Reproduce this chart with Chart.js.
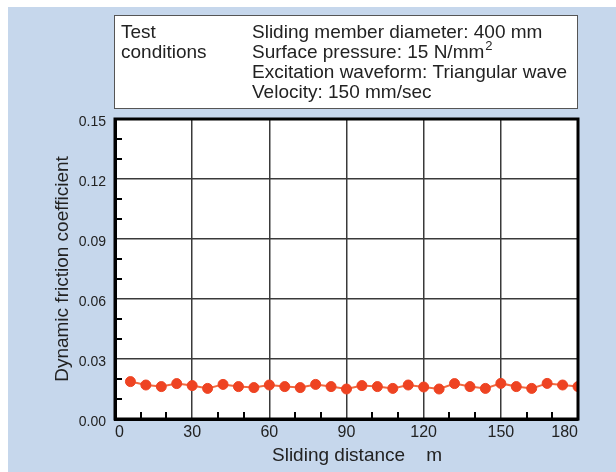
<!DOCTYPE html>
<html>
<head>
<meta charset="utf-8">
<script src="https://cdn.jsdelivr.net/npm/chart.js@4/dist/chart.umd.min.js"></script>
<style>
  html, body { margin: 0; padding: 0; background: #ffffff; }
  canvas { display: block; }
</style>
</head>
<body>
<canvas id="chart" width="616" height="472"></canvas>
<script>
// Sliding distance (m) at each measurement
const distances = [6, 12, 18, 24, 30, 36, 42, 48, 54, 60, 66, 72, 78, 84, 90,
                   96, 102, 108, 114, 120, 126, 132, 138, 144, 150, 156, 162, 168, 174, 180];
// Dynamic friction coefficient measured at each distance
const frictionCoef = [0.0187, 0.0170, 0.0162, 0.0177, 0.0167, 0.0153, 0.0173, 0.0162, 0.0157, 0.0170,
                      0.0162, 0.0157, 0.0173, 0.0162, 0.0150, 0.0167, 0.0162, 0.0153, 0.0170, 0.0160,
                      0.0150, 0.0177, 0.0162, 0.0153, 0.0178, 0.0162, 0.0153, 0.0178, 0.0170, 0.0162];
const xTicks = [0, 30, 60, 90, 120, 150, 180];
const yTicks = [0, 0.03, 0.06, 0.09, 0.12, 0.15];
const xMinorTicks = [10, 20, 40, 50, 70, 80, 100, 110, 130, 140, 160, 170];
const yMinorTicks = [0.01, 0.02, 0.04, 0.05, 0.07, 0.08, 0.10, 0.11, 0.13, 0.14];
const conditionHeading = ['Test', 'conditions'];
const conditionLines = ['Sliding member diameter: 400 mm', 'Surface pressure: 15 N/mm', 'Excitation waveform: Triangular wave', 'Velocity: 150 mm/sec'];
const pressureUnitSup = '2';
const xTitle = 'Sliding distance    m';
const yTitle = 'Dynamic friction coefficient';

const FONT = '"Liberation Sans", Arial, Helvetica, sans-serif';
const NARROW = '"Liberation Sans Narrow", "Arial Narrow", "Liberation Sans", Arial, sans-serif';
const TEXT = '#222222';

const framePlugin = {
  id: 'frame',
  beforeDraw(chart) {
    const { ctx, chartArea: a } = chart;
    ctx.save();
    ctx.fillStyle = '#ffffff';
    ctx.fillRect(0, 0, chart.width, chart.height);
    ctx.fillStyle = '#c6d7ec';
    ctx.fillRect(8, 7, chart.width - 8, chart.height - 7);
    ctx.fillStyle = '#ffffff';
    ctx.fillRect(a.left, a.top, a.right - a.left, a.bottom - a.top);

    // conditions box
    ctx.fillStyle = '#ffffff';
    ctx.fillRect(114, 15, 463, 93);
    ctx.strokeStyle = '#555555';
    ctx.lineWidth = 1;
    ctx.strokeRect(114.5, 15.5, 463, 93);
    ctx.fillStyle = TEXT;
    ctx.font = '19px ' + FONT;
    ctx.textBaseline = 'middle';
    ctx.textAlign = 'left';
    const rowY = [33, 53, 73, 93];
    conditionHeading.forEach((t, i) => ctx.fillText(t, 121, rowY[i]));
    conditionLines.forEach((t, i) => {
      ctx.fillText(t, 252, rowY[i]);
      if (i === 1) {
        const w = ctx.measureText(t).width;
        ctx.font = '13px ' + FONT;
        ctx.fillText(pressureUnitSup, 252 + w + 1, rowY[i] - 7);
        ctx.font = '19px ' + FONT;
      }
    });

    // x axis title
    ctx.font = '19px ' + FONT;
    ctx.fillText(xTitle, 272, 456);
    ctx.restore();
  },
  afterDatasetsDraw(chart) {
    const { ctx, chartArea: a, scales } = chart;
    ctx.save();
    ctx.strokeStyle = '#000000';
    ctx.lineWidth = 2;
    ctx.beginPath();
    yMinorTicks.forEach(v => {
      const y = Math.round(scales.y.getPixelForValue(v));
      ctx.moveTo(a.left, y);
      ctx.lineTo(a.left + 7, y);
    });
    xMinorTicks.forEach(v => {
      const x = Math.round(scales.x.getPixelForValue(v));
      ctx.moveTo(x, a.bottom);
      ctx.lineTo(x, a.bottom - 7);
    });
    ctx.stroke();
    ctx.lineWidth = 3;
    ctx.strokeRect(a.left, a.top, a.right - a.left, a.bottom - a.top);
    ctx.restore();
  }
};

new Chart(document.getElementById('chart'), {
  type: 'line',
  data: {
    datasets: [{
      data: distances.map((d, i) => ({ x: d, y: frictionCoef[i] })),
      borderColor: '#f3693f',
      borderWidth: 2,
      pointBackgroundColor: '#ee4322',
      pointBorderColor: '#ee4322',
      pointBorderWidth: 1,
      pointRadius: 5,
      tension: 0
    }]
  },
  options: {
    responsive: false,
    animation: false,
    events: [],
    layout: { padding: { top: 119, left: 0, right: 38, bottom: 0 } },
    plugins: { legend: { display: false }, tooltip: { enabled: false } },
    scales: {
      x: {
        type: 'linear',
        min: 0,
        max: 180,
        afterBuildTicks(s) { s.ticks = xTicks.map(v => ({ value: v })); },
        afterFit(s) { s.height = 53; },
        grid: { color: '#3a3a3a', lineWidth: 1.5, drawTicks: false },
        border: { display: true, color: '#000000', width: 3 },
        ticks: {
          align: 'inner',
          padding: 4,
          color: TEXT,
          font: { family: FONT, size: 16 },
          maxRotation: 0,
          callback: v => String(v)
        }
      },
      y: {
        min: 0,
        max: 0.15,
        afterBuildTicks(s) { s.ticks = yTicks.map(v => ({ value: v })); },
        afterFit(s) { s.width = 115; },
        grid: { color: '#3a3a3a', lineWidth: 1.5, drawTicks: false },
        border: { display: true, color: '#000000', width: 3 },
        ticks: {
          padding: 9,
          labelOffset: 3,
          color: TEXT,
          font: { family: NARROW, size: 14 },
          callback: v => Number(v).toFixed(2)
        },
        title: {
          display: true,
          text: yTitle,
          color: TEXT,
          font: { family: FONT, size: 19 },
          padding: { top: 51, bottom: 0 }
        }
      }
    }
  },
  plugins: [framePlugin]
});
</script>
</body>
</html>
